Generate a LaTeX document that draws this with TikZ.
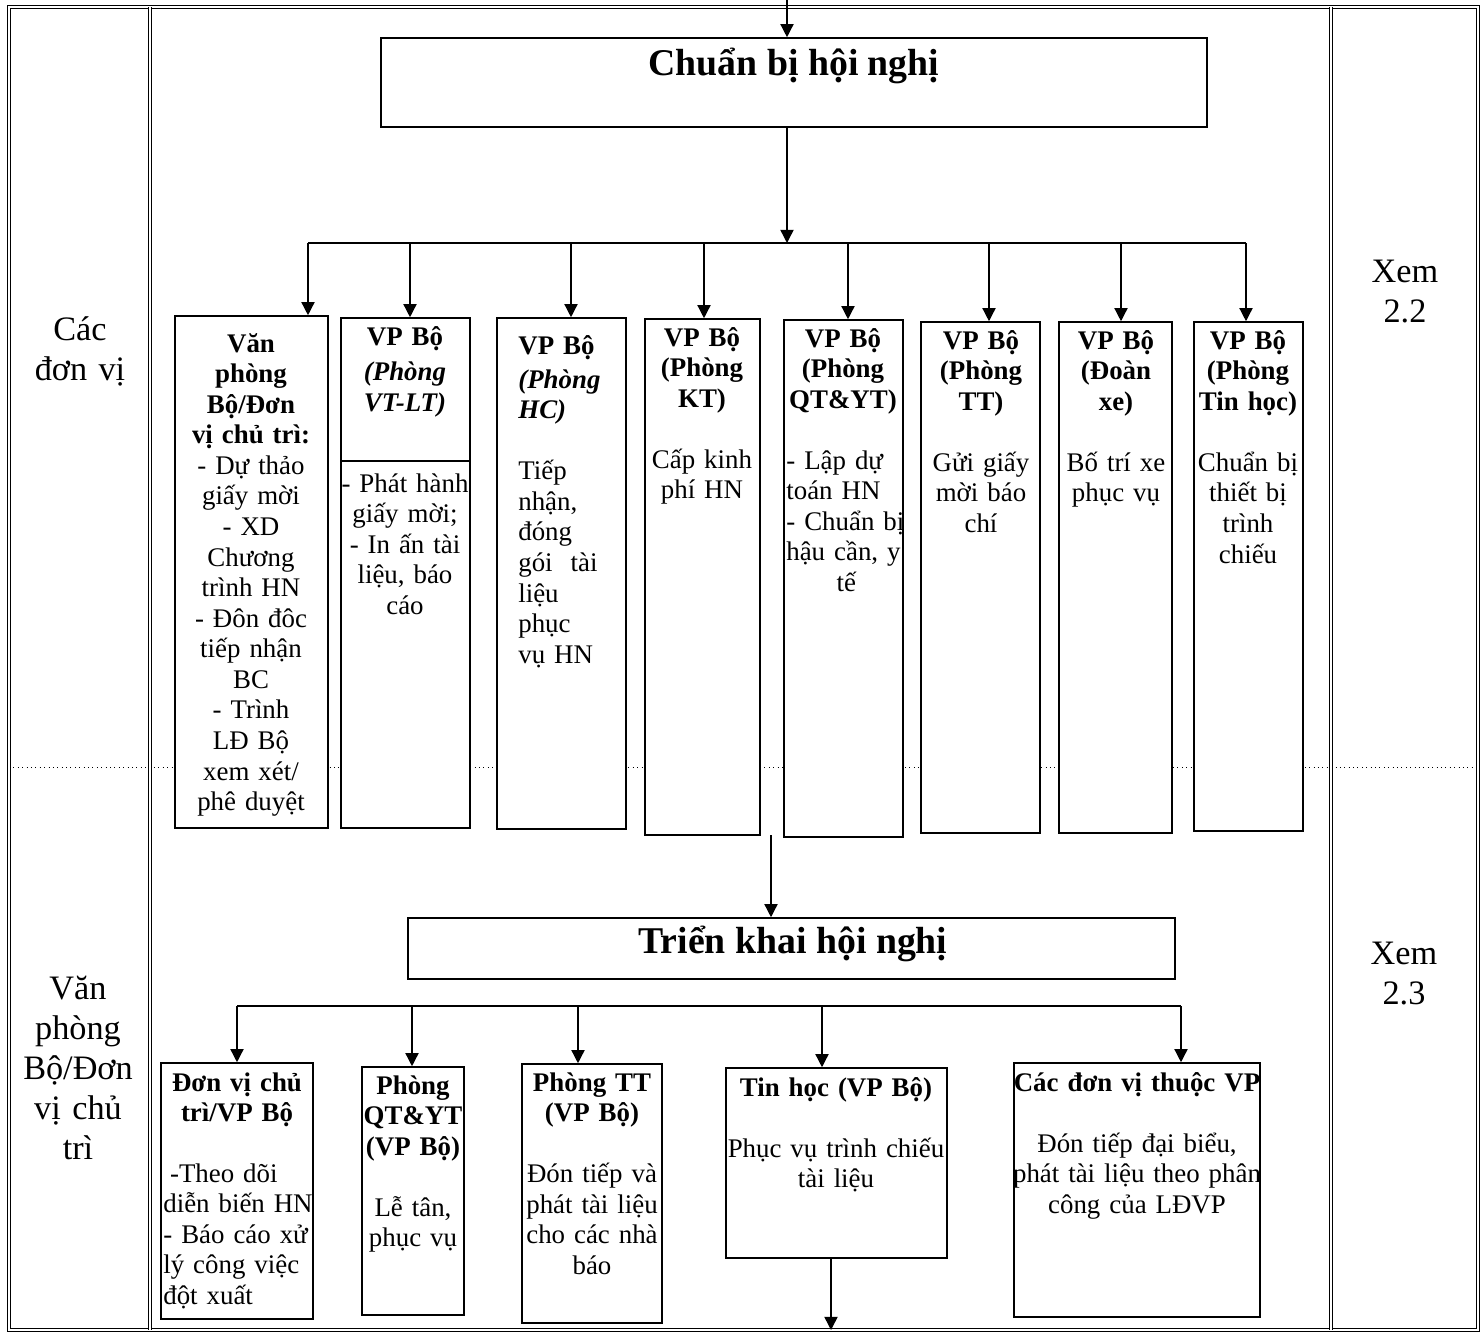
\documentclass[tikz,border=0pt]{standalone}
\usepackage{fontspec}
\setmainfont{Liberation Serif}
\usetikzlibrary{positioning,fit,arrows.meta}

\newcommand{\boxfont}{\fontsize{15.3}{17.4}\selectfont}
\newcommand{\lanefont}{\fontsize{19.5}{22.8}\selectfont}
\newcommand{\titlefont}{\fontsize{21.5}{24}\selectfont}

\tikzset{
  stepbox/.style={draw, line width=0.9pt, fill=white, inner sep=0pt},
  boxtext/.style={font=\boxfont, align=center, text width=5.5cm, inner sep=0pt, anchor=base},
  lefttext/.style={font=\boxfont, align=left, text width=4cm, inner sep=0pt, anchor=base west},
  lanetext/.style={font=\lanefont, align=center, text width=3cm, inner sep=0pt, anchor=base},
  titletext/.style={font=\titlefont\bfseries, inner sep=0pt, anchor=base},
  flow/.style={line width=0.8pt, -{Triangle[length=7.5pt,width=7.5pt]}},
  busline/.style={line width=0.8pt},
  lanerule/.style={double, double distance=1pt, line width=0.5pt},
}

\begin{document}
\begin{tikzpicture}[x=0.02cm, y=-0.02cm]
  \fill[white] (0,0) rectangle (1484,1333);
  \useasboundingbox (0,0) rectangle (1484,1333);

  % Swimlanes
  \draw[dotted, line width=0.5pt] (9,767) -- (1478,767);
  \draw[lanerule] (9,7) rectangle (1478,1330);
  \draw[lanerule] (150,7) -- (150,1330);
  \draw[lanerule] (1331,7) -- (1331,1330);

  \node[lanetext] (laneunits)  at (80,340)   {Các\\đơn vị};
  \node[lanetext] (laneoffice) at (78,999)   {Văn\\phòng\\Bộ/Đơn\\vị chủ\\trì};
  \node[lanetext] (seeprep)    at (1405,282) {Xem\\2.2};
  \node[lanetext] (seedeploy)  at (1404,964) {Xem\\2.3};

  % Preparation
  \node[stepbox, fit={(381,38) (1207,127)}] (prep) {};
  \node[titletext] (preptitle) at (794,75) {Chuẩn bị hội nghị};

  % Preparation tasks
  \node[stepbox, fit={(175,316) (328,828)}]  (b1) {};
  \node[stepbox, fit={(341,318) (470,828)}]  (b2) {};
  \node[stepbox, fit={(497,318) (626,829)}]  (b3) {};
  \node[stepbox, fit={(645,319) (760,835)}]  (b4) {};
  \node[stepbox, fit={(784,320) (903,837)}]  (b5) {};
  \node[stepbox, fit={(921,322) (1040,833)}] (b6) {};
  \node[stepbox, fit={(1059,322) (1172,833)}] (b7) {};
  \node[stepbox, fit={(1194,322) (1303,831)}] (b8) {};

  \node[boxtext] (t1) at (251,352)
    {\textbf{Văn}\\\textbf{phòng}\\\textbf{Bộ/Đơn}\\\textbf{vị chủ trì:}\\- Dự thảo\\giấy mời\\- XD\\Chương\\trình HN\\- Đôn đôc\\tiếp nhận\\BC\\- Trình\\LĐ Bộ\\xem xét/\\phê duyệt};
  \node[boxtext] (h2) at (405,345) {\textbf{VP Bộ}\\[3pt]\textbf{\itshape(Phòng}\\\textbf{\itshape VT-LT)}};
  \coordinate (vtcut) at (405,461);
  \draw[line width=0.9pt] (b2.west |- vtcut) -- (b2.east |- vtcut);
  \node[boxtext] (t2) at (405,492) {- Phát hành\\giấy mời;\\- In ấn tài\\liệu, báo\\cáo};
  \node[lefttext] (t3) at (518,354)
    {\textbf{VP Bộ}\\[2pt]\textbf{\itshape(Phòng}\\\textbf{\itshape HC)}\\[17.4pt]Tiếp\\nhận,\\đóng\\gói\ \ tài\\liệu\\phục\\vụ HN};
  \node[boxtext] (t4) at (702,346) {\textbf{VP Bộ}\\\textbf{(Phòng}\\\textbf{KT)}\\[17.4pt]Cấp kinh\\phí HN};
  \node[boxtext] (h5) at (843,347) {\textbf{VP Bộ}\\\textbf{(Phòng}\\\textbf{QT\&YT)}};
  \node[lefttext, text width=2.4cm] (t5) at (786,469)
    {- Lập dự\\toán HN\\- Chuẩn bị\\hậu cần, y\\\makebox[\linewidth]{tế}};
  \node[boxtext] (t6) at (981,349)  {\textbf{VP Bộ}\\\textbf{(Phòng}\\\textbf{TT)}\\[17.4pt]Gửi giấy\\mời báo\\chí};
  \node[boxtext] (t7) at (1116,349) {\textbf{VP Bộ}\\\textbf{(Đoàn}\\\textbf{xe)}\\[17.4pt]Bố trí xe\\phục vụ};
  \node[boxtext] (t8) at (1248,349) {\textbf{VP Bộ}\\\textbf{(Phòng}\\\textbf{Tin học)}\\[17.4pt]Chuẩn bị\\thiết bị\\trình\\chiếu};

  % Fork into tasks
  \coordinate (intop) at (787,0);
  \draw[flow] (intop) -- (intop |- prep.north);
  \coordinate (fork) at (787,243);
  \draw[flow] (fork |- prep.south) -- (fork);
  \coordinate (j1) at (308,243);
  \coordinate (j2) at (410,243);
  \coordinate (j3) at (571,243);
  \coordinate (j4) at (704,243);
  \coordinate (j5) at (848,243);
  \coordinate (j6) at (989,243);
  \coordinate (j7) at (1121,243);
  \coordinate (j8) at (1246,243);
  \draw[busline] (j1) -- (j8);
  \draw[flow] (j1) -- (j1 |- b1.north);
  \draw[flow] (j2) -- (j2 |- b2.north);
  \draw[flow] (j3) -- (j3 |- b3.north);
  \draw[flow] (j4) -- (j4 |- b4.north);
  \draw[flow] (j5) -- (j5 |- b5.north);
  \draw[flow] (j6) -- (j6 |- b6.north);
  \draw[flow] (j7) -- (j7 |- b7.north);
  \draw[flow] (j8) -- (j8 |- b8.north);

  % Deployment
  \node[stepbox, fit={(408,918) (1175,979)}] (deploy) {};
  \node[titletext] (deploytitle) at (793,953) {Triển khai hội nghị};
  \coordinate (rowout) at (771,835);
  \draw[flow] (rowout) -- (rowout |- deploy.north);

  % Deployment tasks
  \node[stepbox, fit={(161,1063) (313,1319)}]  (m1) {};
  \node[stepbox, fit={(362,1067) (464,1315)}]  (m2) {};
  \node[stepbox, fit={(522,1064) (662,1323)}]  (m3) {};
  \node[stepbox, fit={(726,1068) (947,1258)}]  (m4) {};
  \node[stepbox, fit={(1014,1063) (1260,1317)}] (m5) {};

  \node[boxtext] (m1h) at (237,1091) {\textbf{Đơn vị chủ}\\\textbf{trì/VP Bộ}};
  \node[lefttext] (m1t) at (163,1182) {\hspace*{0.25em}-Theo dõi\\diễn biến HN\\- Báo cáo xử\\lý công việc\\đột xuất};
  \node[boxtext] (m2t) at (413,1094) {\textbf{Phòng}\\\textbf{QT\&YT}\\\textbf{(VP Bộ)}\\[17.4pt]Lễ tân,\\phục vụ};
  \node[boxtext] (m3t) at (592,1091) {\textbf{Phòng TT}\\\textbf{(VP Bộ)}\\[17.4pt]Đón tiếp và\\phát tài liệu\\cho các nhà\\báo};
  \node[boxtext] (m4t) at (836,1096) {\textbf{Tin học (VP Bộ)}\\[17.4pt]Phục vụ trình chiếu\\tài liệu};
  \node[boxtext] (m5t) at (1137,1091) {\textbf{Các đơn vị thuộc VP}\\[17.4pt]Đón tiếp đại biểu,\\phát tài liệu theo phân\\công của LĐVP};

  \coordinate (k1) at (237,1006);
  \coordinate (k2) at (412,1006);
  \coordinate (k3) at (578,1006);
  \coordinate (k4) at (822,1006);
  \coordinate (k5) at (1181,1006);
  \draw[busline] (k1) -- (k5);
  \draw[flow] (k1) -- (k1 |- m1.north);
  \draw[flow] (k2) -- (k2 |- m2.north);
  \draw[flow] (k3) -- (k3 |- m3.north);
  \draw[flow] (k4) -- (k4 |- m4.north);
  \draw[flow] (k5) -- (k5 |- m5.north);

  \coordinate (outbot) at (831,1330);
  \draw[flow] (outbot |- m4.south) -- (outbot);
\end{tikzpicture}
\end{document}
